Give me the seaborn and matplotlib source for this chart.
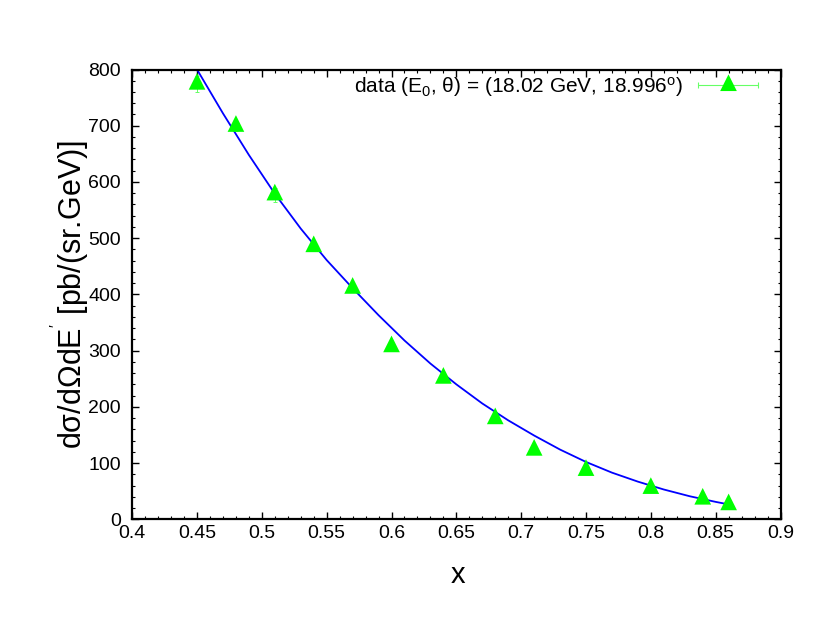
import numpy as np
import pandas as pd
import matplotlib
matplotlib.use("Agg")
import matplotlib.pyplot as plt
import seaborn as sns
from matplotlib.lines import Line2D
from matplotlib.path import Path
from matplotlib.legend_handler import HandlerLine2D, HandlerTuple
from matplotlib.ticker import MultipleLocator, FixedLocator, FixedFormatter

# ---- data ----
x_data = [0.45, 0.48, 0.51, 0.54, 0.57, 0.60, 0.64, 0.68, 0.71, 0.75, 0.80, 0.84, 0.86]
y_data = [774, 699, 577, 485, 411, 307, 251, 179, 123, 87, 55, 36, 26]
y_err = [14, 9, 12, 8, 7, 6, 5, 4, 3, 3, 2, 1.5, 1]

x_fit = [0.45, 0.47, 0.49, 0.51, 0.53, 0.55, 0.57, 0.59, 0.61, 0.63, 0.65,
         0.67, 0.69, 0.71, 0.73, 0.75, 0.77, 0.79, 0.81, 0.83, 0.85, 0.86]
y_fit = [800, 722, 648, 579, 517, 461, 411, 363, 318, 277, 240,
         206, 176, 149, 124, 102, 83, 67, 53, 41, 31, 26.5]

x_ticks = [0.4, 0.45, 0.5, 0.55, 0.6, 0.65, 0.7, 0.75, 0.8, 0.85, 0.9]
x_ticklabels = ["0.4", "0.45", "0.5", "0.55", "0.6", "0.65", "0.7", "0.75", "0.8", "0.85", "0.9"]
y_ticks = [0, 100, 200, 300, 400, 500, 600, 700, 800]

legend_label = r"data (E$_0$, θ) = (18.02 GeV, 18.996$^{\mathrm{o}}$)"
x_label = "x"
y_label = r"dσ/dΩdE$^{'}$ [pb/(sr.GeV)]"

GREEN = "#00ff00"
BLUE = "#0000ff"

sns.set_theme(style="ticks")
plt.rcParams["font.family"] = ["Liberation Sans", "DejaVu Sans"]
plt.rcParams["mathtext.fontset"] = "custom"
plt.rcParams["mathtext.rm"] = "Liberation Sans"
plt.rcParams["mathtext.it"] = "Liberation Sans"
plt.rcParams["mathtext.default"] = "regular"

fig = plt.figure(figsize=(8.30, 6.42), dpi=100)
fig.patch.set_facecolor("white")
ax = fig.add_axes([132.2 / 830, 1 - 519.3 / 642, 648.3 / 830, 449.8 / 642])
ax.set_facecolor("white")

fit_df = pd.DataFrame({"x": x_fit, "y": y_fit})
data_df = pd.DataFrame({"x": x_data, "y": y_data, "err": y_err})

sns.lineplot(data=fit_df, x="x", y="y", color=BLUE, lw=1.3, ax=ax, zorder=2)

ax.errorbar(data_df["x"], data_df["y"], yerr=data_df["err"], fmt="none",
            ecolor="#66ff66", elinewidth=0.7, capsize=1.5, capthick=0.7, zorder=3)

# gnuplot-style filled triangle, centroid on the data point
tri = Path([(0, 4 / 3), (-1, -2 / 3), (1, -2 / 3), (0, 4 / 3)],
           [Path.MOVETO, Path.LINETO, Path.LINETO, Path.CLOSEPOLY])
sns.scatterplot(data=data_df, x="x", y="y", marker=tri, s=16 ** 2,
                color=GREEN, edgecolor="none", linewidth=0, ax=ax, zorder=4)

ax.set_xlim(0.4, 0.9)
ax.set_ylim(0, 800)
ax.xaxis.set_major_locator(FixedLocator(x_ticks))
ax.xaxis.set_major_formatter(FixedFormatter(x_ticklabels))
ax.xaxis.set_minor_locator(MultipleLocator(0.01))
ax.yaxis.set_major_locator(FixedLocator(y_ticks))
ax.yaxis.set_minor_locator(MultipleLocator(20))

for s in ax.spines.values():
    s.set_visible(True)
    s.set_color("black")
    s.set_linewidth(1.6)

ax.tick_params(which="both", direction="in", top=True, right=True,
               color="black", labelcolor="black")
ax.tick_params(which="major", length=5, width=1.0, labelsize=14)
ax.tick_params(which="minor", length=2.5, width=0.8)
ax.tick_params(axis="x", which="major", pad=4)
ax.tick_params(axis="y", which="major", pad=8)

ax.set_xlabel(x_label, fontsize=21, color="black")
ax.set_ylabel(y_label, fontsize=22, color="black")
ax.xaxis.label.set_va("center")
ax.yaxis.label.set_va("center")
ax.xaxis.set_label_coords(0.5025, (519.3 - 575) / 449.8)
ax.yaxis.set_label_coords((70 - 132.2) / 648.3, 0.5)

# legend (gnuplot-style: text first, then errorbar sample)
bar = Line2D([], [], color="#66ff66", lw=0.8, marker="|", markersize=5, markeredgewidth=0.8)
mk = Line2D([], [], color=GREEN, ls="none", marker=tri, markersize=16, markeredgewidth=0)
leg = ax.legend([(bar, mk)], [legend_label], loc="center right",
                bbox_to_anchor=((758 - 132.2) / 648.3, (519.3 - 87) / 449.8),
                frameon=False, fontsize=15, markerfirst=False, borderpad=0,
                borderaxespad=0, handlelength=2.88, handletextpad=0.72,
                handler_map={bar: HandlerLine2D(numpoints=2, marker_pad=0),
                             mk: HandlerLine2D(numpoints=1),
                             tuple: HandlerTuple(ndivide=1, pad=0)})
for t in leg.get_texts():
    t.set_color("black")

fig.savefig("out.png", dpi=100, facecolor="white")
